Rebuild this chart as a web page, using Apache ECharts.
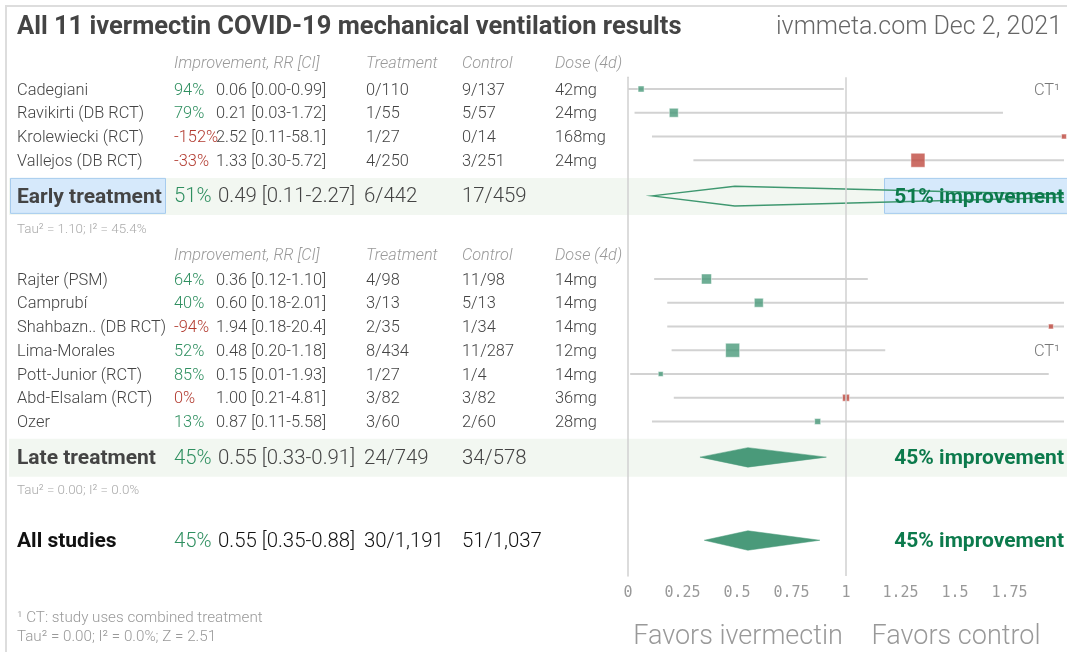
<!DOCTYPE html>
<html>
<head>
<meta charset="utf-8">
<script src="https://cdn.jsdelivr.net/npm/echarts@6/dist/echarts.min.js"></script>
<style>
  html, body { margin: 0; padding: 0; background: #fff; }
  #main { width: 1067px; height: 652px; }
</style>
</head>
<body>
<div id="main"></div>
<script>
// early treatment studies
const earlyNames = ['Cadegiani', 'Ravikirti (DB RCT)', 'Krolewiecki (RCT)', 'Vallejos (DB RCT)'];
const earlyRR = [0.06, 0.21, 2.52, 1.33];
const earlyLo = [0.00, 0.03, 0.11, 0.30];
const earlyHi = [0.99, 1.72, 58.1, 5.72];
const earlyTreat = ['0/110', '1/55', '1/27', '4/250'];
const earlyCtrl = ['9/137', '5/57', '0/14', '3/251'];
const earlyDose = ['42mg', '24mg', '168mg', '24mg'];
const earlyWeight = [9, 20, 6, 49];
const earlyNote = ['CT¹', '', '', ''];

// late treatment studies
const lateNames = ['Rajter (PSM)', 'Camprubí', 'Shahbazn.. (DB RCT)', 'Lima-Morales', 'Pott-Junior (RCT)', 'Abd-Elsalam (RCT)', 'Ozer'];
const lateRR = [0.36, 0.60, 1.94, 0.48, 0.15, 1.00, 0.87];
const lateLo = [0.12, 0.18, 0.18, 0.20, 0.01, 0.21, 0.11];
const lateHi = [1.10, 2.01, 20.4, 1.18, 1.93, 4.81, 5.58];
const lateTreat = ['4/98', '3/13', '2/35', '8/434', '1/27', '3/82', '3/60'];
const lateCtrl = ['11/98', '5/13', '1/34', '11/287', '1/4', '3/82', '2/60'];
const lateDose = ['14mg', '14mg', '14mg', '12mg', '14mg', '36mg', '28mg'];
const lateWeight = [25, 20, 6, 49, 6, 12, 9];
const lateNote = ['', '', '', 'CT¹', '', '', ''];

// pooled results
const summaryNames = ['Early treatment', 'Late treatment', 'All studies'];
const summaryRR = [0.49, 0.55, 0.55];
const summaryLo = [0.11, 0.33, 0.35];
const summaryHi = [2.27, 0.91, 0.88];
const summaryTreat = ['6/442', '24/749', '30/1,191'];
const summaryCtrl = ['17/459', '34/578', '51/1,037'];
const summaryTau = ['Tau² = 1.10; I² = 45.4%', 'Tau² = 0.00; I² = 0.0%', ''];

const xMin = 0, xMax = 2, xStep = 0.25;

// row layout (row units on the y axis)
const earlyRows = [0, 1, 2, 3];
const lateRows = [8, 9, 10, 11, 12, 13, 14];
const summaryRows = [4.5, 15.5, 19];
const headerRows = [-1.1, 6.95];
const tauRows = [5.85, 16.85];
const rowH = 23.75, row0 = 89;
const yMin = -0.5, yMax = 20.5;
const rowY = r => row0 + r * rowH;

const GREEN = '#4a9a7a', RED = '#bf4a40';
const font = 'Roboto, "Noto Sans", sans-serif';

function fmt(v) { return v >= 10 ? v.toFixed(1) : v.toFixed(2); }
function ciText(rr, lo, hi) { return fmt(rr) + ' [' + fmt(lo) + '-' + fmt(hi) + ']'; }
function improvement(rr) { return Math.round((1 - rr) * 100); }

const graphics = [];
function txt(x, y, text, o) {
  o = o || {};
  graphics.push({
    type: 'text', x: x, y: y + 1.5, z: o.z || 5, silent: true,
    style: {
      text: text,
      font: (o.italic ? 'italic ' : '') + (o.weight || 300) + ' ' + (o.size || 16.4) + 'px ' + font,
      fill: o.color || '#444',
      textAlign: o.align || 'left', align: o.align || 'left',
      textVerticalAlign: 'middle', verticalAlign: 'middle'
    }
  });
}
function box(x, y, w, h, fill, stroke) {
  graphics.push({
    type: 'rect', z: -1, silent: true,
    shape: { x: x, y: y, width: w, height: h },
    style: { fill: fill, stroke: stroke || null, lineWidth: 1 }
  });
}

// frame, bands, highlight boxes
graphics.push({ type: 'rect', z: -2, silent: true, shape: { x: 6, y: 6, width: 1100, height: 700 }, style: { fill: 'none', stroke: '#dddddd', lineWidth: 2 } });
box(9, rowY(summaryRows[0]) - 18, 1060, 37, '#f2f7f1');
box(9, rowY(summaryRows[1]) - 18.5, 1060, 38, '#f2f7f1');
box(10.5, rowY(summaryRows[0]) - 17.5, 155, 35, '#d6e9fb', '#a6cbee');
box(884.5, rowY(summaryRows[0]) - 17.5, 190, 35, '#d6e9fb', '#a6cbee');

// title
txt(17, 26, 'All 11 ivermectin COVID-19 mechanical ventilation results', { size: 25.5, weight: 'bold', color: '#444' });
txt(1062, 26, 'ivmmeta.com Dec 2, 2021', { size: 25, weight: 300, color: '#666', align: 'right' });

// column headers
const cols = { name: 17, imp: 174, rr: 216, treat: 366, ctrl: 462, dose: 555 };
headerRows.forEach(r => {
  const y = rowY(r);
  const h = { size: 16.3, italic: true, color: '#999' };
  txt(cols.imp, y, 'Improvement, RR [CI]', h);
  txt(cols.treat, y, 'Treatment', h);
  txt(cols.ctrl, y, 'Control', h);
  txt(cols.dose, y, 'Dose (4d)', h);
});

function studyRows(rows, names, rr, lo, hi, tr, ct, dose, note) {
  rows.forEach((r, i) => {
    const y = rowY(r);
    const imp = improvement(rr[i]);
    txt(cols.name, y, names[i]);
    txt(cols.imp, y, imp + '%', { color: imp > 0 ? '#2f8f60' : '#b23b30' });
    txt(cols.rr, y, ciText(rr[i], lo[i], hi[i]));
    txt(cols.treat, y, tr[i]);
    txt(cols.ctrl, y, ct[i]);
    txt(cols.dose, y, dose[i]);
    if (note[i]) txt(1060, y, note[i], { color: '#777', align: 'right' });
  });
}
studyRows(earlyRows, earlyNames, earlyRR, earlyLo, earlyHi, earlyTreat, earlyCtrl, earlyDose, earlyNote);
studyRows(lateRows, lateNames, lateRR, lateLo, lateHi, lateTreat, lateCtrl, lateDose, lateNote);

summaryRows.forEach((r, i) => {
  const y = rowY(r);
  const imp = improvement(summaryRR[i]);
  const dark = i === 2 ? '#111' : '#444';
  txt(cols.name, y, summaryNames[i], { size: 21, weight: 'bold', color: dark });
  txt(cols.imp, y, imp + '%', { size: 20.4, color: '#2f8f60' });
  txt(cols.rr + 2, y, ciText(summaryRR[i], summaryLo[i], summaryHi[i]), { size: 20.4, color: dark });
  txt(cols.treat - 2, y, summaryTreat[i], { size: 20.4, color: dark });
  txt(cols.ctrl, y, summaryCtrl[i], { size: 20.4, color: dark });
  txt(1064, y, imp + '% improvement', { size: 21, weight: 'bold', color: '#0c7a4c', align: 'right' });
  if (summaryTau[i]) txt(cols.name, rowY(tauRows[i]), summaryTau[i], { size: 13.4, color: '#aaa' });
});

// footnotes and axis captions
txt(17, 617, '¹ CT: study uses combined treatment', { size: 15.2, color: '#999' });
txt(17, 636, 'Tau² = 0.00; I² = 0.0%; Z = 2.51', { size: 15.2, color: '#999' });
txt(738, 636, 'Favors ivermectin', { size: 27, color: '#999', align: 'center' });
txt(956, 636, 'Favors control', { size: 27, color: '#999', align: 'center' });

// series data
const ciData = [];
const pointData = [];
function addStudies(rows, rr, lo, hi, w) {
  rows.forEach((r, i) => {
    ciData.push([lo[i], hi[i], r]);
    pointData.push({
      value: [Math.min(rr[i], xMax), r],
      symbolSize: 2 * Math.sqrt(w[i]),
      itemStyle: { color: rr[i] >= 1 ? RED : GREEN }
    });
  });
}
addStudies(earlyRows, earlyRR, earlyLo, earlyHi, earlyWeight);
addStudies(lateRows, lateRR, lateLo, lateHi, lateWeight);
const diamondData = summaryRows.map((r, i) => [summaryLo[i], summaryRR[i], summaryHi[i], r, i === 0 ? 0 : 1]);

const chart = echarts.init(document.getElementById('main'));
chart.setOption({
  animation: false,
  graphic: graphics,
  grid: { left: 628, top: rowY(yMin), width: 440, height: (yMax - yMin) * rowH },
  xAxis: {
    type: 'value', min: xMin, max: xMax, interval: xStep,
    axisLine: { show: false }, axisTick: { show: false }, splitLine: { show: false },
    axisLabel: {
      margin: 10, color: '#999', fontSize: 15, fontFamily: '"DejaVu Sans Mono", monospace',
      formatter: v => (v >= xMax ? '' : String(v))
    }
  },
  yAxis: {
    type: 'value', inverse: true, min: yMin, max: yMax,
    axisLine: { show: true, lineStyle: { color: '#d0d0d0', width: 1.5 } },
    axisTick: { show: false }, axisLabel: { show: false }, splitLine: { show: false }
  },
  series: [
    {
      type: 'custom', name: 'ci', clip: true, z: 2,
      encode: { x: [0, 1], y: 2 },
      data: ciData,
      renderItem: (params, api) => {
        const a = api.coord([api.value(0), api.value(2)]);
        const b = api.coord([api.value(1), api.value(2)]);
        return { type: 'line', shape: { x1: a[0], y1: a[1], x2: b[0], y2: b[1] }, style: { stroke: '#d2d2d2', lineWidth: 2 } };
      },
      markLine: {
        silent: true, symbol: 'none', label: { show: false },
        lineStyle: { color: '#d0d0d0', width: 1.5, type: 'solid' },
        data: [{ xAxis: 1 }]
      }
    },
    {
      type: 'scatter', name: 'rr', symbol: 'rect', clip: false, z: 3,
      itemStyle: { borderColor: 'rgba(255,255,255,0.6)', borderWidth: 1 },
      data: pointData
    },
    {
      type: 'custom', name: 'pooled', clip: true, z: 4,
      encode: { x: [0, 1, 2], y: 3 },
      data: diamondData,
      renderItem: (params, api) => {
        const l = api.coord([api.value(0), api.value(3)]);
        const c = api.coord([api.value(1), api.value(3)]);
        const r = api.coord([api.value(2), api.value(3)]);
        const filled = api.value(4) === 1;
        return {
          type: 'polygon',
          shape: { points: [l, [c[0], c[1] - 9.5], r, [c[0], c[1] + 10]] },
          style: filled ? { fill: GREEN, stroke: GREEN, lineWidth: 0.5 } : { fill: 'none', stroke: '#3f9870', lineWidth: 1.5 }
        };
      }
    }
  ]
});
</script>
</body>
</html>
